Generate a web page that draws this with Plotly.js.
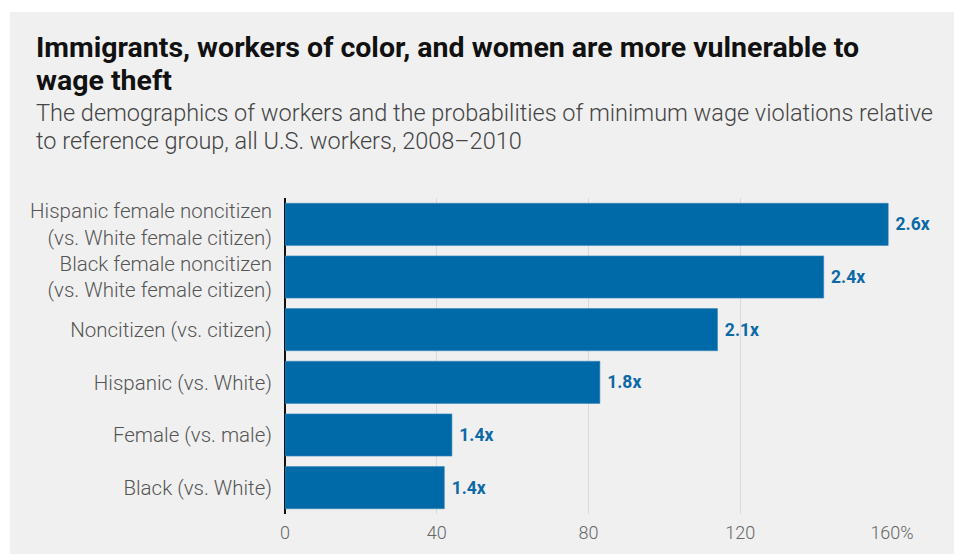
<!DOCTYPE html>
<html>
<head>
<meta charset="utf-8">
<script src="https://cdn.plot.ly/plotly-3.0.1.min.js"></script>
<style>
  html, body { margin: 0; padding: 0; background: #ffffff; width: 954px; height: 554px; overflow: hidden; }
  #chart { position: absolute; left: 10px; top: 12px; width: 944px; height: 542px; background: #f0f0f0; }
</style>
</head>
<body>
<div id="chart"></div>
<script>
// ---- data ----
const categories = [
  "Hispanic female noncitizen<br>(vs. White female citizen)",
  "Black female noncitizen<br>(vs. White female citizen)",
  "Noncitizen (vs. citizen)",
  "Hispanic (vs. White)",
  "Female (vs. male)",
  "Black (vs. White)"
];
const percentHigher = [159, 142, 114, 83, 44, 42];
const ratioLabels = ["2.6x", "2.4x", "2.1x", "1.8x", "1.4x", "1.4x"];
const xTickVals = [0, 40, 80, 120, 160];
const xTickText = ["0", "40", "80", "120", "160%"];
const titleLines = ["Immigrants, workers of color, and women are more vulnerable to", "wage theft"];
const subtitleLines = ["The demographics of workers and the probabilities of minimum wage violations relative", "to reference group, all U.S. workers, 2008–2010"];

// ---- chart ----
const W = 944, H = 542;
const M = { l: 275, r: 62, t: 186, b: 40 };
const plotW = W - M.l - M.r, plotH = H - M.t - M.b;
const FONT = "Roboto, 'Liberation Sans', sans-serif";

// glyph size set in span; base font size sets the line spacing (1.3em)
const wrap = (lines, px) => lines.map(l => `<span style="font-size:${px}px">${l}</span>`).join("<br>");

const trace = {
  type: "bar",
  orientation: "h",
  y: categories,
  x: percentHigher,
  text: ratioLabels,
  texttemplate: "\u00a0%{text}",
  textposition: "outside",
  cliponaxis: false,
  constraintext: "none",
  textfont: { family: FONT, size: 17.5, weight: 700, color: "#0b69a6" },
  marker: { color: "#0069a7", line: { color: "#3a86bb", width: 0.6 } },
  hoverinfo: "none"
};

const layout = {
  width: W, height: H,
  margin: M,
  paper_bgcolor: "#f0f0f0",
  plot_bgcolor: "#f0f0f0",
  showlegend: false,
  bargap: 0.2,
  title: {
    text: wrap(titleLines, 28.5),
    xref: "container", yref: "container",
    x: 26 / W, xanchor: "left",
    y: 1 - 45 / H, yanchor: "middle",
    font: { family: FONT, size: 25.7, weight: 700, color: "#111111" }
  },
  annotations: [{
    text: wrap(subtitleLines, 23.5),
    xref: "paper", yref: "paper",
    x: (24 - M.l) / plotW, xanchor: "left",
    y: (H - M.b - 115.5) / plotH, yanchor: "middle",
    align: "left",
    showarrow: false,
    font: { family: FONT, size: 21.2, weight: 300, color: "#444444" }
  }],
  xaxis: {
    range: [0, 160],
    tickvals: xTickVals,
    ticktext: xTickText,
    showgrid: true,
    gridcolor: "#dadada",
    gridwidth: 1,
    zeroline: true,
    zerolinecolor: "#111111",
    zerolinewidth: 2,
    showline: false,
    ticks: "",
    ticklabelstandoff: 6,
    tickfont: { family: FONT, size: 18, weight: 300, color: "#666666" },
    fixedrange: true
  },
  yaxis: {
    autorange: "reversed",
    showgrid: false,
    zeroline: false,
    showline: false,
    ticks: "",
    ticklabelstandoff: 12,
    tickfont: { family: FONT, size: 20.5, weight: 300, color: "#555555" },
    fixedrange: true
  }
};

Plotly.newPlot("chart", [trace], layout, { displayModeBar: false, staticPlot: true });
</script>
</body>
</html>
